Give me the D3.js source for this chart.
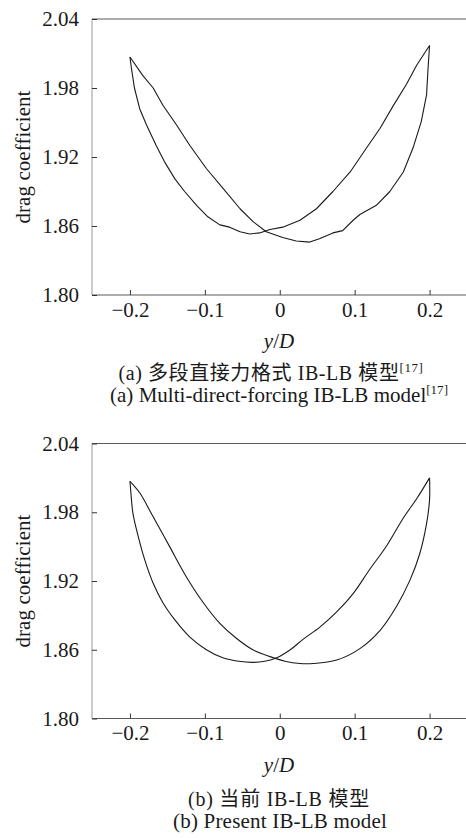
<!DOCTYPE html>
<html>
<head>
<meta charset="utf-8">
<script src="https://cdn.jsdelivr.net/npm/d3@7"></script>
<style>
  body { margin: 0; background: #fff; }
  svg text { font-family: "Liberation Serif", "Times New Roman", "Noto Sans CJK SC", serif; fill: #1a1a1a; }
</style>
</head>
<body>
<div id="chart"></div>
<script>
// Figure size
const width = 466;
const height = 838;

// Axis ticks (shared by both panels)
const xTicks = [-0.2, -0.1, 0, 0.1, 0.2];
const xTickLabels = ["\u22120.2", "\u22120.1", "0", "0.1", "0.2"];
const yTicks = [1.80, 1.86, 1.92, 1.98, 2.04];
const yTickLabels = ["1.80", "1.86", "1.92", "1.98", "2.04"];

// (a) multi-direct-forcing model: left peak -> right peak
const mdfForward = [
  [-0.200, 2.007], [-0.183, 1.991], [-0.169, 1.980], [-0.156, 1.965], [-0.138, 1.948],
  [-0.120, 1.930], [-0.098, 1.910], [-0.076, 1.893], [-0.053, 1.875], [-0.036, 1.864],
  [-0.018, 1.855], [0.004, 1.850], [0.022, 1.847], [0.040, 1.846], [0.053, 1.849],
  [0.071, 1.854], [0.084, 1.856], [0.098, 1.865], [0.107, 1.870], [0.129, 1.878],
  [0.147, 1.890], [0.165, 1.907], [0.178, 1.928], [0.189, 1.951], [0.196, 1.974],
  [0.198, 1.997], [0.200, 2.017]
];
// (a) right peak -> left peak
const mdfReturn = [
  [0.200, 2.017], [0.183, 2.000], [0.169, 1.983], [0.151, 1.964], [0.134, 1.945],
  [0.116, 1.928], [0.094, 1.907], [0.071, 1.890], [0.049, 1.875], [0.027, 1.865],
  [0.004, 1.859], [-0.013, 1.857], [-0.027, 1.854], [-0.040, 1.853], [-0.053, 1.855],
  [-0.067, 1.859], [-0.080, 1.861], [-0.096, 1.868], [-0.111, 1.878], [-0.127, 1.890],
  [-0.140, 1.901], [-0.154, 1.916], [-0.165, 1.930], [-0.178, 1.948], [-0.187, 1.962],
  [-0.194, 1.980], [-0.198, 1.997], [-0.200, 2.007]
];

// (b) present model: left peak -> right peak
const presentForward = [
  [-0.200, 2.007], [-0.187, 1.997], [-0.169, 1.976], [-0.147, 1.950], [-0.125, 1.924],
  [-0.102, 1.901], [-0.080, 1.883], [-0.058, 1.870], [-0.036, 1.860], [-0.013, 1.854],
  [0.007, 1.850], [0.027, 1.848], [0.045, 1.848], [0.076, 1.851], [0.107, 1.861],
  [0.134, 1.877], [0.156, 1.898], [0.174, 1.921], [0.187, 1.944], [0.196, 1.970],
  [0.200, 1.991], [0.200, 2.010]
];
// (b) right peak -> left peak
const presentReturn = [
  [0.200, 2.010], [0.183, 1.992], [0.165, 1.975], [0.143, 1.951], [0.120, 1.930],
  [0.098, 1.909], [0.076, 1.893], [0.054, 1.880], [0.031, 1.869], [0.014, 1.860],
  [-0.004, 1.853], [-0.020, 1.850], [-0.036, 1.849], [-0.055, 1.850], [-0.076, 1.853],
  [-0.098, 1.860], [-0.120, 1.871], [-0.140, 1.886], [-0.156, 1.901], [-0.169, 1.918],
  [-0.180, 1.938], [-0.189, 1.959], [-0.196, 1.979], [-0.199, 1.999], [-0.200, 2.007]
];

// Panel captions
const captionsCn = ["(a) \u591a\u6bb5\u76f4\u63a5\u529b\u683c\u5f0f IB-LB \u6a21\u578b", "(b) \u5f53\u524d IB-LB \u6a21\u578b"];
const captionsEn = ["(a) Multi-direct-forcing IB-LB model", "(b) Present IB-LB model"];
const captionRefs = ["[17]", ""];

// layout per panel (target text widths)
const panels = [
  { top: 19, bottom: 295, series: [mdfForward, mdfReturn], curve: d3.curveLinear,
    cap1: { x: 271, dy: 85, w: 305 }, cap2: { x: 279, dy: 107, w: 338 } },
  { top: 443.5, bottom: 718.5, series: [presentForward, presentReturn], curve: d3.curveCatmullRom,
    cap1: { x: 279, dy: 87, w: 182 }, cap2: { x: 280, dy: 109, w: 214 } }
];

const plotLeft = 92;
const plotRight = 467;

const svg = d3.select("#chart").append("svg")
  .attr("width", width)
  .attr("height", height);

// stretch a text to a wanted width with letter spacing
function fitWidth(sel, target) {
  const node = sel.node();
  const len = node.getComputedTextLength();
  const n = node.textContent.length;
  if (n > 1 && len > 0) sel.attr("letter-spacing", (target - len) / n);
}

function drawPanel(p, i) {
  const x = d3.scaleLinear().domain([-0.25, 0.25]).range([plotLeft + 0.5, plotRight]);
  const y = d3.scaleLinear().domain([1.80, 2.04]).range([p.bottom, p.top]);
  const g = svg.append("g");

  // frame: light left axis, darker top and bottom lines
  g.append("line")
    .attr("x1", plotLeft).attr("x2", plotLeft)
    .attr("y1", p.top).attr("y2", p.bottom)
    .attr("stroke", "#a8a8a8").attr("stroke-width", 1.2);
  g.append("line")
    .attr("x1", plotLeft).attr("x2", width)
    .attr("y1", p.top).attr("y2", p.top)
    .attr("stroke", "#5a5a5a").attr("stroke-width", 1.2);
  g.append("line")
    .attr("x1", plotLeft).attr("x2", width)
    .attr("y1", p.bottom).attr("y2", p.bottom)
    .attr("stroke", "#5a5a5a").attr("stroke-width", 1.2);

  // x axis: inward ticks
  const xAxis = d3.axisBottom(x).tickValues(xTicks).tickSizeInner(-5).tickSizeOuter(0)
    .tickPadding(7).tickFormat((d, k) => xTickLabels[k]);
  const gx = g.append("g").attr("transform", `translate(0,${p.bottom})`).call(xAxis);
  gx.select(".domain").remove();
  gx.selectAll(".tick line").attr("stroke", "#333");
  gx.selectAll(".tick text").attr("font-size", 21);

  // y axis: inward ticks
  const yAxis = d3.axisLeft(y).tickValues(yTicks).tickSizeInner(-5).tickSizeOuter(0)
    .tickPadding(13).tickFormat((d, k) => yTickLabels[k]);
  const gy = g.append("g").attr("transform", `translate(${plotLeft},0)`).call(yAxis);
  gy.select(".domain").remove();
  gy.selectAll(".tick line").attr("stroke", "#333");
  gy.selectAll(".tick text").attr("font-size", 21);

  // loop curves
  const line = d3.line().x(d => x(d[0])).y(d => y(d[1])).curve(p.curve);
  p.series.forEach(s => {
    g.append("path")
      .datum(s)
      .attr("d", line)
      .attr("fill", "none")
      .attr("stroke", "#1a1a1a")
      .attr("stroke-width", 1.1)
      .attr("stroke-linejoin", "round");
  });

  // axis titles
  const yl = g.append("text")
    .attr("transform", `translate(30,${(p.top + p.bottom) / 2}) rotate(-90)`)
    .attr("text-anchor", "middle")
    .attr("font-size", 21)
    .text("drag coefficient");
  fitWidth(yl, 133);

  const xt = g.append("text")
    .attr("x", 279).attr("y", p.bottom + 53)
    .attr("text-anchor", "middle")
    .attr("font-size", 21);
  xt.append("tspan").attr("font-style", "italic").text("y");
  xt.append("tspan").text("/");
  xt.append("tspan").attr("font-style", "italic").text("D");

  // captions
  const c1 = g.append("text")
    .attr("x", p.cap1.x).attr("y", p.bottom + p.cap1.dy)
    .attr("text-anchor", "middle")
    .attr("font-size", 20);
  c1.append("tspan").text(captionsCn[i]);
  if (captionRefs[i]) c1.append("tspan").attr("font-size", 13).attr("dy", -8).text(captionRefs[i]);
  fitWidth(c1, p.cap1.w);

  const c2 = g.append("text")
    .attr("x", p.cap2.x).attr("y", p.bottom + p.cap2.dy)
    .attr("text-anchor", "middle")
    .attr("font-size", 21);
  c2.append("tspan").text(captionsEn[i]);
  if (captionRefs[i]) c2.append("tspan").attr("font-size", 13).attr("dy", -8).text(captionRefs[i]);
  fitWidth(c2, p.cap2.w);
}

panels.forEach(drawPanel);
</script>
</body>
</html>
